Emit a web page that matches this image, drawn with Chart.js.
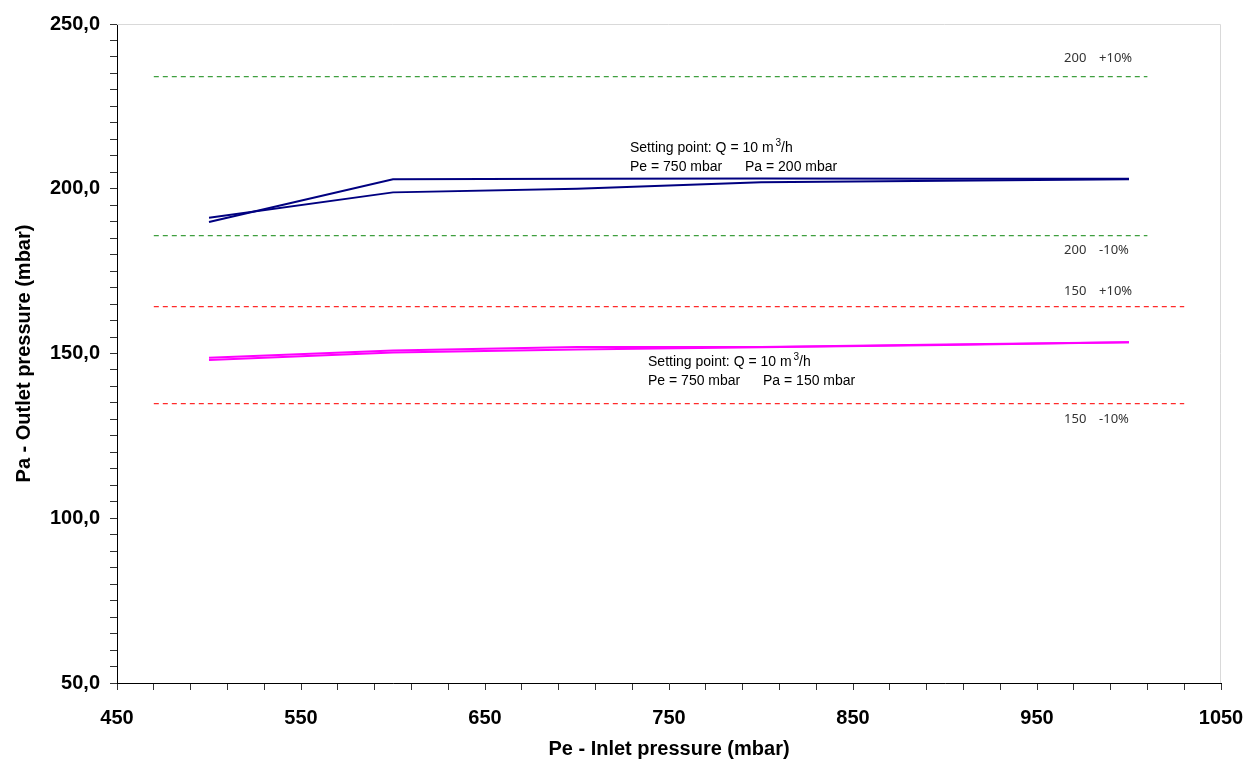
<!DOCTYPE html>
<html>
<head>
<meta charset="utf-8">
<script src="https://cdn.jsdelivr.net/npm/chart.js@4"></script>
<style>
  html, body { margin: 0; padding: 0; background: #ffffff; }
  #wrap { width: 1247px; height: 765px; }
</style>
</head>
<body>
<div id="wrap"><canvas id="c" width="1247" height="765"></canvas></div>
<script>
// ---- data ----
const inletPressure = [500, 600, 700, 800, 900, 1000];
const outlet200a = [189.9, 202.9, 203.0, 203.1, 203.0, 203.0];
const outlet200b = [191.2, 198.9, 200.0, 202.0, 202.4, 202.9];
const outlet150a = [148.0, 150.3, 151.2, 151.9, 152.6, 153.4];
const outlet150b = [148.7, 150.9, 152.0, 152.0, 152.7, 153.4];

const limit200Range = [470, 1010];
const limit200Plus = 234.0;
const limit200Minus = 185.8;
const limit150Range = [470, 1030];
const limit150Plus = 164.2;
const limit150Minus = 134.8;

const xAxisMin = 450, xAxisMax = 1050, xMinorStep = 20, xMajorStep = 100;
const yAxisMin = 50, yAxisMax = 250, yMinorStep = 5, yMajorStep = 50;

const xTitle = 'Pe - Inlet pressure (mbar)';
const yTitle = 'Pa - Outlet pressure (mbar)';

const notes200 = { x: 728.8, y1: 212.4, y2: 206.6, line1: 'Setting point: Q = 10 m³/h', lineA: 'Pe = 750 mbar', lineB: 'Pa = 200 mbar' };
const notes150 = { x: 738.6, y1: 147.4, y2: 141.6, line1: 'Setting point: Q = 10 m³/h', lineA: 'Pe = 750 mbar', lineB: 'Pa = 150 mbar' };
const limitLabels = [
  { x: 964.7, y: 239.7, a: '200', b: '+10%' },
  { x: 964.7, y: 181.4, a: '200', b: '-10%' },
  { x: 964.7, y: 169.0, a: '150', b: '+10%' },
  { x: 964.7, y: 130.0, a: '150', b: '-10%' }
];

// ---- build datasets ----
function pts(xs, ys) { return xs.map((x, i) => ({ x: x, y: ys[i] })); }
function hline(range, y) { return [{ x: range[0], y: y }, { x: range[1], y: y }]; }

const NAVY = '#000080', MAGENTA = '#ff00ff', GREEN = '#3f9f3f', RED = '#ff2a2a';

const datasets = [
  { data: hline(limit200Range, limit200Plus), borderColor: GREEN, borderWidth: 1.2, borderDash: [5, 4] },
  { data: hline(limit200Range, limit200Minus), borderColor: GREEN, borderWidth: 1.2, borderDash: [5, 4] },
  { data: hline(limit150Range, limit150Plus), borderColor: RED, borderWidth: 1.2, borderDash: [5, 4] },
  { data: hline(limit150Range, limit150Minus), borderColor: RED, borderWidth: 1.2, borderDash: [5, 4] },
  { data: pts(inletPressure, outlet200a), borderColor: NAVY, borderWidth: 2 },
  { data: pts(inletPressure, outlet200b), borderColor: NAVY, borderWidth: 2 },
  { data: pts(inletPressure, outlet150a), borderColor: MAGENTA, borderWidth: 2 },
  { data: pts(inletPressure, outlet150b), borderColor: MAGENTA, borderWidth: 2 }
];
datasets.forEach(d => { d.pointRadius = 0; d.fill = false; d.tension = 0; });

const NOTE_FONT = '14px "Liberation Sans", Arial, sans-serif';
const SUP_FONT = '10px "Liberation Sans", Arial, sans-serif';

function drawWithSup(ctx, text, px, py) {
  const parts = text.split('³');
  ctx.font = NOTE_FONT;
  ctx.fillText(parts[0] + ' ', px, py);
  let cx = px + ctx.measureText(parts[0] + ' ').width - 2;
  if (parts.length > 1) {
    ctx.font = SUP_FONT;
    ctx.fillText('3', cx, py - 5);
    cx += ctx.measureText('3').width;
    ctx.font = NOTE_FONT;
    ctx.fillText(parts[1], cx, py);
  }
}

const annotations = {
  id: 'annotations',
  afterDatasetsDraw(chart) {
    const { ctx, scales: { x, y }, chartArea: ca } = chart;
    ctx.save();
    // light frame on top and right
    ctx.strokeStyle = '#d9d9d9';
    ctx.lineWidth = 1;
    ctx.beginPath();
    ctx.moveTo(ca.left, ca.top + 0.5);
    ctx.lineTo(ca.right - 0.5, ca.top + 0.5);
    ctx.lineTo(ca.right - 0.5, ca.bottom);
    ctx.stroke();

    ctx.fillStyle = '#000';
    ctx.textBaseline = 'middle';
    ctx.textAlign = 'left';
    [notes200, notes150].forEach(n => {
      const px = x.getPixelForValue(n.x);
      drawWithSup(ctx, n.line1, px, y.getPixelForValue(n.y1));
      ctx.font = NOTE_FONT;
      ctx.fillText(n.lineA, px, y.getPixelForValue(n.y2));
      ctx.fillText(n.lineB, px + 115, y.getPixelForValue(n.y2));
    });

    ctx.fillStyle = '#333';
    ctx.font = '13px "Noto Sans", "DejaVu Sans", sans-serif';
    limitLabels.forEach(l => {
      const px = x.getPixelForValue(l.x);
      const py = y.getPixelForValue(l.y);
      ctx.fillText(l.a, px, py);
      ctx.fillText(l.b, px + 35, py);
    });
    ctx.restore();
  }
};

const tickFont = { family: '"Liberation Sans", Arial, sans-serif', size: 20, weight: 'bold' };

new Chart(document.getElementById('c'), {
  type: 'line',
  data: { datasets: datasets },
  plugins: [annotations],
  options: {
    responsive: false,
    animation: false,
    events: [],
    layout: { padding: { top: 24, right: 26, left: 0, bottom: 0 } },
    plugins: { legend: { display: false }, tooltip: { enabled: false } },
    scales: {
      x: {
        type: 'linear',
        min: xAxisMin, max: xAxisMax,
        afterBuildTicks(scale) {
          const t = [];
          for (let v = xAxisMin; v <= xAxisMax; v += xMinorStep) t.push({ value: v });
          scale.ticks = t;
        },
        afterFit(scale) { scale.height = 82; scale.paddingLeft = 0; scale.paddingRight = 0; },
        ticks: {
          autoSkip: false, maxRotation: 0, padding: 16, color: '#000', font: tickFont,
          callback: v => ((v - xAxisMin) % xMajorStep === 0 ? String(v) : '')
        },
        grid: { display: true, drawOnChartArea: false, drawTicks: true, tickLength: 7, color: '#333', lineWidth: 1 },
        border: { display: true, color: '#000', width: 1 },
        title: { display: true, text: xTitle, color: '#000', font: tickFont, padding: { top: 0, bottom: 4 } }
      },
      y: {
        type: 'linear',
        min: yAxisMin, max: yAxisMax,
        afterBuildTicks(scale) {
          const t = [];
          for (let v = yAxisMin; v <= yAxisMax; v += yMinorStep) t.push({ value: v });
          scale.ticks = t;
        },
        afterFit(scale) { scale.width = 117; scale.paddingTop = 0; scale.paddingBottom = 0; },
        ticks: {
          autoSkip: false, padding: 10, color: '#000', font: tickFont,
          callback: v => ((v - yAxisMin) % yMajorStep === 0 ? v.toFixed(1).replace('.', ',') : '')
        },
        grid: { display: true, drawOnChartArea: false, drawTicks: true, tickLength: 7, color: '#333', lineWidth: 1 },
        border: { display: true, color: '#000', width: 1 },
        title: { display: true, text: yTitle, color: '#000', font: tickFont, padding: { top: 12, bottom: 0 } }
      }
    }
  }
});
</script>
</body>
</html>
